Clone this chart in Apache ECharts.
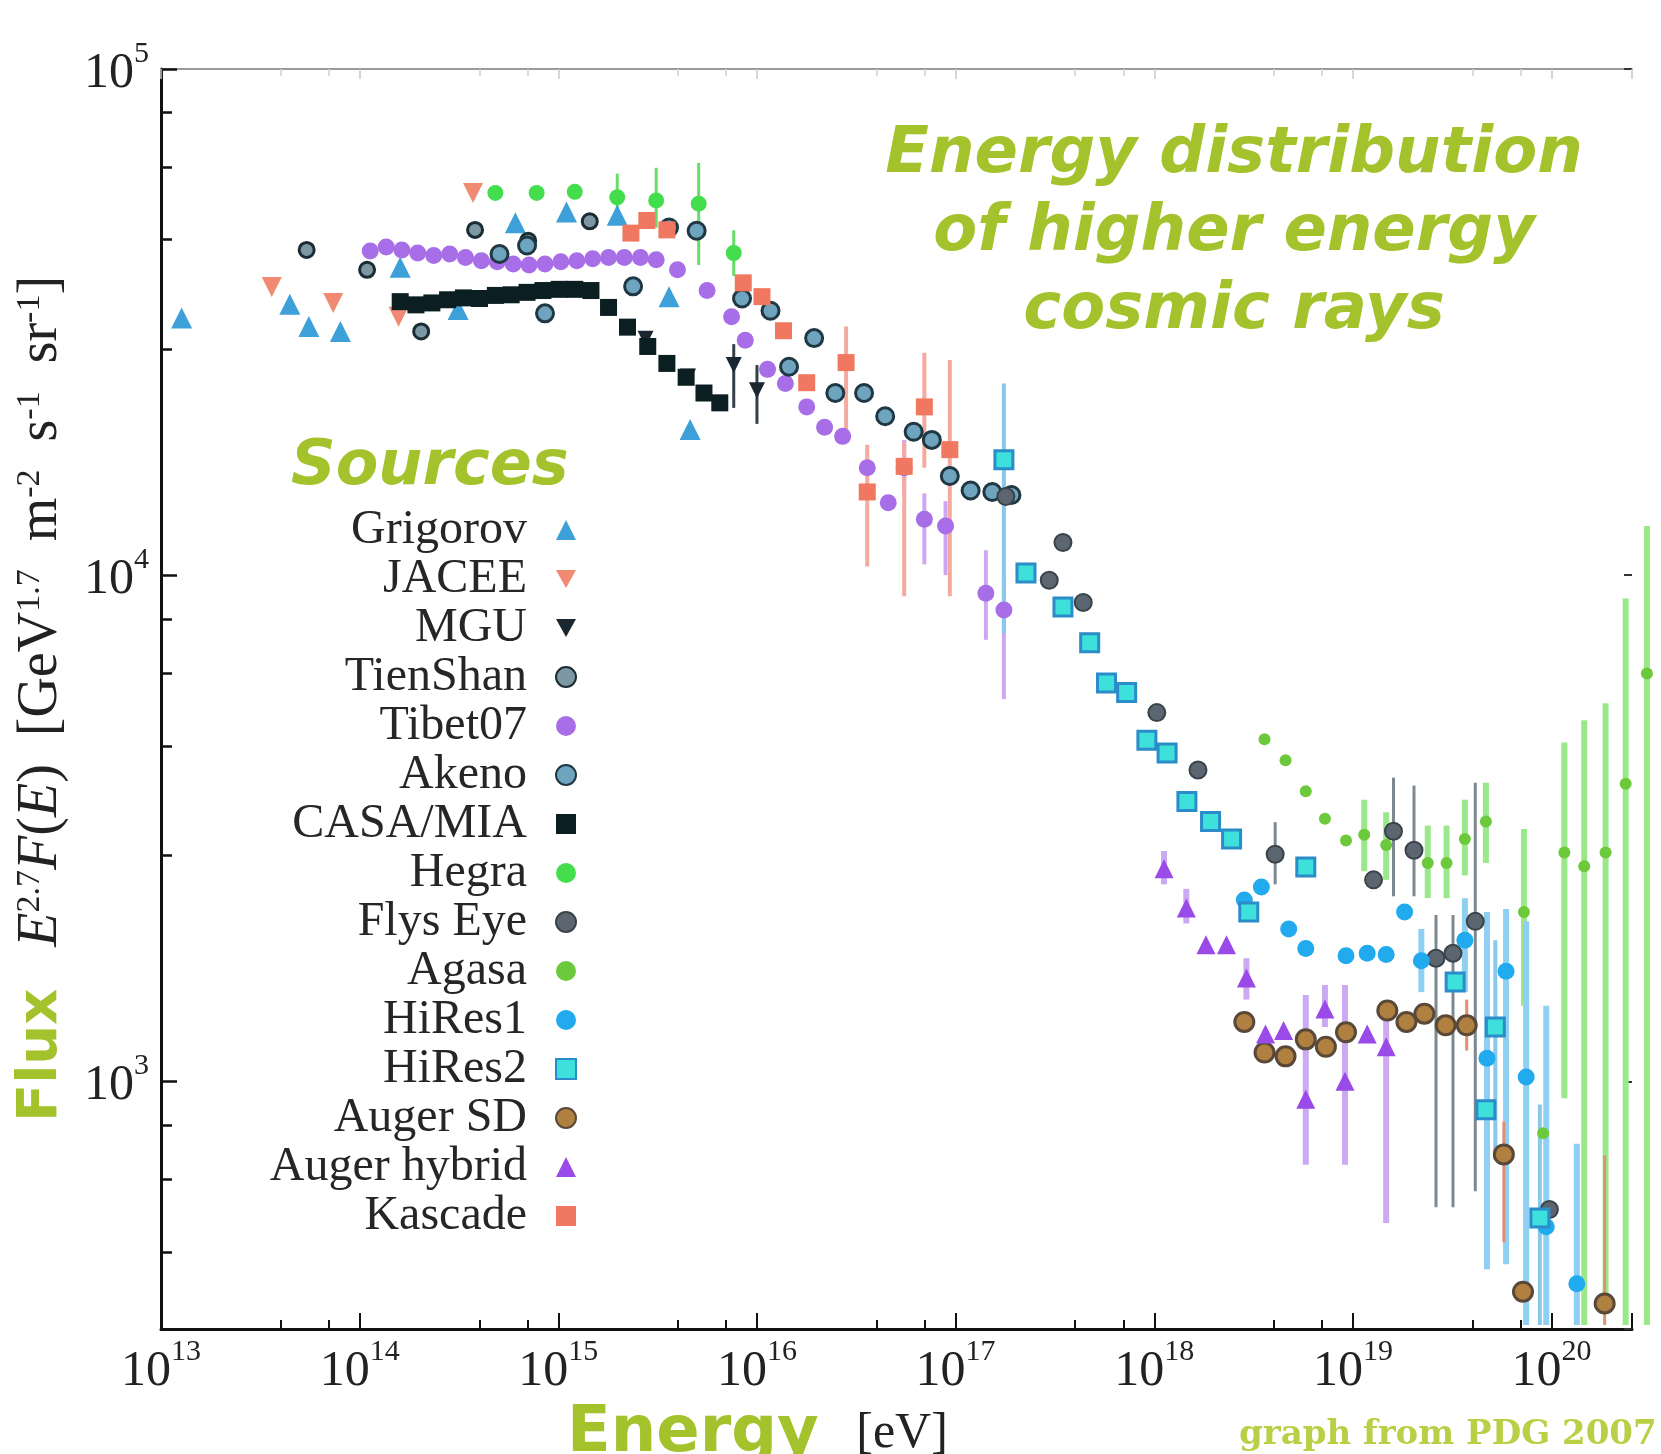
<!DOCTYPE html>
<html><head><meta charset="utf-8">
<script src="https://cdn.jsdelivr.net/npm/echarts@6/dist/echarts.min.js"></script>
<style>html,body{margin:0;padding:0;background:#fff}#c{width:1661px;height:1454px}</style>
</head><body><div id="c"></div>
<script>
// ---- axis ticks (exponents of 10) ----
const xTickExponents = [13, 14, 15, 16, 17, 18, 19, 20];
const yTickExponents = [3, 4, 5];

// ---- data: [energy eV, E^2.7 F(E)] ----
const grigorov = [[1.27e13,3.22e4],[4.45e13,3.43e4],[5.55e13,3.10e4],[8.0e13,3.03e4],[1.60e14,4.06e4],[3.13e14,3.35e4],[6.08e14,4.97e4],[1.10e15,5.22e4],[1.98e15,5.14e4],[3.61e15,3.55e4],[4.61e15,1.94e4]];
const jacee = [[3.61e13,3.71e4],[7.36e13,3.45e4],[1.57e14,3.24e4],[3.72e14,5.69e4]];
const mgu = [[2.75e15,2.93e4],[4.50e15,2.47e4],[7.64e15,2.60e4],[1.0e16,2.32e4]];
const mguErr = [[7.64e15,2.14e4,2.86e4],[1.0e16,1.99e4,2.60e4]];
const tienShan = [[5.41e13,4.39e4],[1.09e14,4.01e4],[2.04e14,3.03e4],[3.81e14,4.81e4],[7.05e14,4.58e4],[1.44e15,5.00e4]];
const tibet07 = [[1.13e14,4.37e4],[1.36e14,4.45e4],[1.63e14,4.39e4],[1.96e14,4.33e4],[2.36e14,4.28e4],[2.84e14,4.31e4],[3.41e14,4.24e4],[4.10e14,4.18e4],[4.93e14,4.16e4],[5.93e14,4.12e4],[7.13e14,4.10e4],[8.57e14,4.12e4],[1.03e15,4.16e4],[1.24e15,4.18e4],[1.49e15,4.22e4],[1.79e15,4.24e4],[2.15e15,4.24e4],[2.59e15,4.24e4],[3.11e15,4.20e4],[3.98e15,4.01e4],[5.61e15,3.65e4],[7.45e15,3.24e4],[8.73e15,2.91e4],[1.13e16,2.55e4],[1.39e16,2.39e4],[1.78e16,2.15e4],[2.19e16,1.96e4],[2.70e16,1.88e4],[3.59e16,1.63e4],[4.58e16,1.39e4],[5.51e16,1.63e4],[6.96e16,1.29e4],[8.90e16,1.25e4],[1.42e17,9.21e3],[1.75e17,8.53e3]];
const tibet07Err = [[5.51e16,1.45e4,1.85e4],[6.96e16,1.05e4,1.45e4],[8.90e16,1.00e4,1.40e4],[1.42e17,7.45e3,1.12e4],[1.75e17,5.69e3,9.9e3]];
const akeno = [[5.06e14,4.31e4],[6.96e14,4.48e4],[8.57e14,3.29e4],[2.38e15,3.72e4],[3.61e15,4.86e4],[4.97e15,4.79e4],[8.41e15,3.52e4],[1.17e16,3.33e4],[1.45e16,2.58e4],[1.94e16,2.94e4],[2.48e16,2.29e4],[3.46e16,2.29e4],[4.42e16,2.06e4],[6.15e16,1.92e4],[7.59e16,1.85e4],[9.35e16,1.57e4],[1.19e17,1.47e4],[1.53e17,1.46e4],[1.91e17,1.44e4]];
const casaMia = [[1.60e14,3.47e4],[1.92e14,3.42e4],[2.31e14,3.45e4],[2.77e14,3.50e4],[3.33e14,3.53e4],[4.01e14,3.52e4],[4.82e14,3.57e4],[5.79e14,3.58e4],[6.96e14,3.62e4],[8.37e14,3.65e4],[1.01e15,3.67e4],[1.21e15,3.67e4],[1.46e15,3.65e4],[1.79e15,3.38e4],[2.23e15,3.09e4],[2.82e15,2.83e4],[3.52e15,2.62e4],[4.40e15,2.46e4],[5.41e15,2.29e4],[6.50e15,2.19e4]];
const hegra = [[4.82e14,5.69e4],[7.78e14,5.69e4],[1.21e15,5.72e4],[1.98e15,5.58e4],[3.11e15,5.50e4],[5.09e15,5.42e4],[7.64e15,4.33e4]];
const hegraErr = [[1.98e15,4.97e4,6.21e4],[3.11e15,4.86e4,6.38e4],[5.09e15,4.10e4,6.52e4],[7.64e15,3.90e4,4.80e4]];
const flysEye = [[1.79e17,1.43e4],[2.96e17,9.77e3],[3.47e17,1.16e4],[4.39e17,8.83e3],[1.03e18,5.35e3],[1.66e18,4.12e3],[4.06e18,2.81e3],[1.27e19,2.50e3],[1.60e19,3.12e3],[2.03e19,2.86e3],[2.62e19,1.75e3],[3.19e19,1.79e3],[4.13e19,2.07e3],[9.75e19,5.58e2]];
const flysEyeErr = [[4.06e18,2.45e3,3.25e3],[1.60e19,2.32e3,3.98e3],[2.03e19,2.32e3,3.84e3],[2.62e19,5.64e2,2.13e3],[3.19e19,5.64e2,2.13e3],[4.13e19,6.06e2,3.89e3]];
const agasa = [[3.59e18,4.74e3],[4.58e18,4.31e3],[5.79e18,3.74e3],[7.23e18,3.30e3],[9.23e18,2.99e3],[1.14e19,3.07e3],[1.47e19,2.93e3],[2.38e19,2.70e3],[2.96e19,2.70e3],[3.66e19,3.01e3],[4.67e19,3.26e3],[7.26e19,2.16e3],[9.06e19,7.89e2],[1.16e20,2.83e3],[1.46e20,2.66e3],[1.87e20,2.83e3],[2.36e20,3.87e3],[3.02e20,6.39e3]];
const agasaErr = [[1.14e19,2.6e3,3.6e3],[1.47e19,2.5e3,3.4e3],[2.38e19,2.3e3,3.2e3],[2.96e19,2.3e3,3.2e3],[3.66e19,2.55e3,3.6e3],[4.67e19,2.70e3,3.89e3],[7.26e19,1.41e3,3.15e3],[1.16e20,9.26e2,4.67e3],[1.46e20,3.3e2,5.17e3],[1.87e20,3.52e2,5.58e3],[2.36e20,3.3e2,8.99e3],[3.02e20,3.3e2,1.25e4]];
const hiRes1 = [[2.84e18,2.28e3],[3.46e18,2.42e3],[4.75e18,2.00e3],[5.79e18,1.83e3],[9.23e18,1.77e3],[1.18e19,1.79e3],[1.47e19,1.78e3],[1.82e19,2.16e3],[2.21e19,1.73e3],[3.66e19,1.90e3],[4.73e19,1.11e3],[5.90e19,1.65e3],[7.45e19,1.02e3],[9.40e19,5.16e2],[1.34e20,3.98e2]];
const hiRes1Err = [[2.21e19,1.5e3,2.0e3],[3.66e19,1.5e3,2.3e3],[4.73e19,4.25e2,2.16e3],[5.90e19,4.35e2,2.19e3],[7.45e19,3.3e2,2.07e3],[9.40e19,3.3e2,1.41e3],[1.34e20,3.3e2,7.53e2]];
const hiRes2 = [[1.75e17,1.69e4],[2.26e17,1.01e4],[3.47e17,8.65e3],[4.73e17,7.35e3],[5.75e17,6.12e3],[7.26e17,5.86e3],[9.18e17,4.72e3],[1.16e18,4.45e3],[1.46e18,3.57e3],[1.92e18,3.26e3],[2.45e18,3.01e3],[2.99e18,2.16e3],[5.79e18,2.65e3],[3.27e19,1.57e3],[4.67e19,8.78e2],[5.21e19,1.28e3],[8.73e19,5.37e2]];
const hiRes2Err = [[1.75e17,7.67e3,2.39e4],[5.21e19,7.0e2,1.9e3],[8.73e19,3.3e2,9.0e2]];
const augerSD = [[2.84e18,1.31e3],[3.59e18,1.14e3],[4.58e18,1.12e3],[5.79e18,1.21e3],[7.31e18,1.17e3],[9.23e18,1.25e3],[1.49e19,1.38e3],[1.86e19,1.31e3],[2.29e19,1.36e3],[2.93e19,1.29e3],[3.74e19,1.29e3],[5.75e19,7.17e2],[7.18e19,3.84e2],[1.85e20,3.64e2]];
const augerSDErr = [[3.74e19,1.15e3,1.45e3],[5.75e19,4.81e2,8.32e2],[1.85e20,3.3e2,7.14e2]];
const augerHybrid = [[1.12e18,2.63e3],[1.45e18,2.20e3],[1.82e18,1.86e3],[2.31e18,1.86e3],[2.91e18,1.60e3],[3.63e18,1.24e3],[4.48e18,1.26e3],[5.79e18,9.21e2],[7.23e18,1.39e3],[9.12e18,1.0e3],[1.18e19,1.24e3],[1.47e19,1.17e3]];
const augerHybridErr = [[1.12e18,2.45e3,2.85e3],[1.45e18,2.05e3,2.4e3],[2.91e18,1.45e3,1.75e3],[5.79e18,6.84e2,1.48e3],[7.23e18,1.28e3,1.55e3],[9.12e18,6.84e2,1.55e3],[1.47e19,5.25e2,1.41e3]];
const kascade = [[2.32e15,4.74e4],[2.79e15,5.02e4],[3.52e15,4.81e4],[8.53e15,3.78e4],[1.06e16,3.55e4],[1.36e16,3.04e4],[1.78e16,2.40e4],[2.81e16,2.63e4],[3.59e16,1.46e4],[5.51e16,1.64e4],[6.96e16,2.15e4],[9.35e16,1.77e4]];
const kascadeErr = [[2.81e16,1.85e4,3.10e4],[3.59e16,1.04e4,1.81e4],[5.51e16,9.08e3,1.83e4],[6.96e16,1.63e4,2.75e4],[9.35e16,9.08e3,2.66e4]];

const seriesNames = ['Grigorov','JACEE','MGU','TienShan','Tibet07','Akeno','CASA/MIA','Hegra','Flys Eye','Agasa','HiRes1','HiRes2','Auger SD','Auger hybrid','Kascade'];

const GREEN = '#a4c22c';
const SERIF = "'Liberation Serif', 'DejaVu Serif', serif";
const DOWN = 'path://M0,0 L10,0 L5,9 Z';

function powLabel(exps) {
  return function (v) {
    const e = Math.log10(v), r = Math.round(e);
    if (Math.abs(e - r) > 1e-6 || exps.indexOf(r) < 0) return '';
    return '{b|10}{s|' + r + '}';
  };
}
const labelRich = {
  b: { fontFamily: SERIF, fontSize: 50, color: '#222', padding: [10, 0, 0, 0] },
  s: { fontFamily: SERIF, fontSize: 30, color: '#222', verticalAlign: 'top' }
};

function sc(name, data, symbol, size, color, border, bw, extra) {
  return Object.assign({
    type: 'scatter', name: name, data: data, symbol: symbol, symbolSize: size, z: 3,
    itemStyle: { color: color, borderColor: border || color, borderWidth: bw || 0, opacity: 1 },
    emphasis: { disabled: true }
  }, extra || {});
}
function err(name, data, color, width) {
  return {
    type: 'custom', name: 'err-' + name, data: data, z: 2, silent: true,
    encode: { x: 0, y: [1, 2] },
    renderItem: function (params, api) {
      const p1 = api.coord([api.value(0), api.value(1)]);
      const p2 = api.coord([api.value(0), api.value(2)]);
      return { type: 'line', shape: { x1: p1[0], y1: p1[1], x2: p2[0], y2: p2[1] }, style: { stroke: color, lineWidth: width } };
    }
  };
}

const chart = echarts.init(document.getElementById('c'), null, { renderer: 'canvas' });
chart.setOption({
  animation: false,
  backgroundColor: '#fff',
  grid: { left: 161, right: 29, top: 69, bottom: 125 },
  title: [
    { text: 'Energy distribution\nof higher energy\ncosmic rays', left: 1234, top: 116, padding: 0, textAlign: 'center',
      textStyle: { fontFamily: 'DejaVu Sans', fontWeight: 'bold', fontStyle: 'italic', fontSize: 64, lineHeight: 78, color: GREEN } },
    { text: 'Sources', left: 291, top: 437, padding: 0,
      textStyle: { fontFamily: 'DejaVu Sans', fontWeight: 'bold', fontStyle: 'italic', fontSize: 62, lineHeight: 62, color: GREEN } },
    { text: '{en|Energy}{ev|   [eV]}', left: 567, top: 1402, padding: 0,
      textStyle: { rich: {
        en: { fontFamily: 'DejaVu Sans', fontWeight: 'bold', fontSize: 64, color: GREEN },
        ev: { fontFamily: SERIF, fontWeight: 'normal', fontSize: 50, color: '#222' } } } },
    { text: 'graph from PDG 2007', left: 1239, top: 1418, padding: 0,
      textStyle: { fontFamily: "'DejaVu Serif', serif", fontWeight: 'bold', fontSize: 34, color: '#b9cf45' } }
  ],
  legend: {
    orient: 'vertical', align: 'right', right: 1084, top: 506, padding: 0,
    itemGap: 1, itemWidth: 20, itemHeight: 20, selectedMode: false,
    formatter: function (name) { return name + '  '; },
    textStyle: { fontFamily: SERIF, fontSize: 48, color: '#262626' },
    data: seriesNames
  },
  xAxis: [
    { type: 'log', logBase: 10, min: 1e13, max: 2.54e20, position: 'bottom',
      axisLine: { show: true, lineStyle: { color: '#111', width: 3 } },
      axisTick: { show: true, inside: true, length: 16, lineStyle: { color: '#111', width: 2 } },
      minorTick: { show: true, splitNumber: 3, length: 9, lineStyle: { color: '#111', width: 2 } },
      axisLabel: { show: true, margin: 8, formatter: powLabel(xTickExponents), rich: labelRich },
      splitLine: { show: false }, minorSplitLine: { show: false } },
    { type: 'log', logBase: 10, min: 1e13, max: 2.54e20, position: 'top',
      axisLine: { show: true, lineStyle: { color: '#9a9a9a', width: 2 } },
      axisTick: { show: true, inside: true, length: 10, lineStyle: { color: '#c8c8d0', width: 1.5 } },
      minorTick: { show: true, splitNumber: 3, length: 7, lineStyle: { color: '#d0d0d8', width: 1.5 } },
      axisLabel: { show: false }, splitLine: { show: false } }
  ],
  yAxis: [
    { type: 'log', logBase: 10, min: 324, max: 1e5, position: 'left',
      axisLine: { show: true, lineStyle: { color: '#111', width: 3 } },
      axisTick: { show: true, inside: true, length: 16, lineStyle: { color: '#111', width: 2.5 } },
      minorTick: { show: true, splitNumber: 5, length: 11, lineStyle: { color: '#111', width: 2.5 } },
      axisLabel: { show: true, margin: 12, formatter: powLabel(yTickExponents), rich: labelRich },
      splitLine: { show: false }, minorSplitLine: { show: false },
      name: '{flux|Flux}{rm|   }{it|E}{sup|2.7}{it|F}{rm|(}{it|E}{rm|)  [GeV}{sup|1.7}{rm|  m}{sup|-2}{rm|  s}{sup|-1}{rm|  sr}{sup|-1}{rm|]}',
      nameLocation: 'middle', nameRotate: 90, nameGap: 92,
      nameTextStyle: { rich: {
        flux: { fontFamily: 'DejaVu Sans', fontWeight: 'bold', fontSize: 56, color: GREEN },
        it: { fontFamily: SERIF, fontStyle: 'italic', fontSize: 56, color: '#222' },
        rm: { fontFamily: SERIF, fontSize: 56, color: '#222' },
        sup: { fontFamily: SERIF, fontSize: 34, color: '#222', verticalAlign: 'top' } } } },
    { type: 'log', logBase: 10, min: 324, max: 1e5, position: 'right',
      axisLine: { show: false },
      axisTick: { show: true, inside: true, length: 8, lineStyle: { color: '#333', width: 2 } },
      axisLabel: { show: false }, splitLine: { show: false } }
  ],
  series: [
    err('Tibet07', tibet07Err, '#cfa6f2', 4),
    err('Kascade', kascadeErr, '#f5aaa0', 4),
    err('Hegra', hegraErr, '#66dd66', 3),
    err('MGU', mguErr, '#33404a', 3),
    err('Flys Eye', flysEyeErr, '#7d8890', 3),
    err('Agasa', agasaErr, '#9be88a', 6),
    err('HiRes1', hiRes1Err, '#8fd0f2', 6),
    err('HiRes2', hiRes2Err, '#88c8e8', 4),
    err('Auger SD', augerSDErr, '#e09070', 3),
    err('Auger hybrid', augerHybridErr, '#cbaaf2', 6),
    sc('Grigorov', grigorov, 'triangle', 21, '#3da0d8'),
    sc('JACEE', jacee, DOWN, 20, '#f08a72'),
    sc('MGU', mgu, DOWN, 16, '#1a2630'),
    sc('TienShan', tienShan, 'circle', 15, '#7d98a2', '#1c2c34', 3),
    sc('Tibet07', tibet07, 'circle', 17, '#a86ee8'),
    sc('Akeno', akeno, 'circle', 17, '#6fa4be', '#1f3844', 3),
    sc('CASA/MIA', casaMia, 'rect', 17, '#0b1e22'),
    sc('Hegra', hegra, 'circle', 16, '#44dd4e'),
    sc('Flys Eye', flysEye, 'circle', 17, '#5c6670', '#3a424a', 2),
    sc('Agasa', agasa, 'circle', 12, '#6cc93c', null, 0, { clip: false }),
    sc('HiRes1', hiRes1, 'circle', 17, '#22aaee'),
    sc('HiRes2', hiRes2, 'rect', 18, '#3ee0dc', '#2a8cc8', 3),
    sc('Auger SD', augerSD, 'circle', 19, '#b08040', '#5a4838', 3),
    sc('Auger hybrid', augerHybrid, 'triangle', 19, '#9a4ae8'),
    sc('Kascade', kascade, 'rect', 17, '#f07860')
  ]
});
</script>
</body></html>
